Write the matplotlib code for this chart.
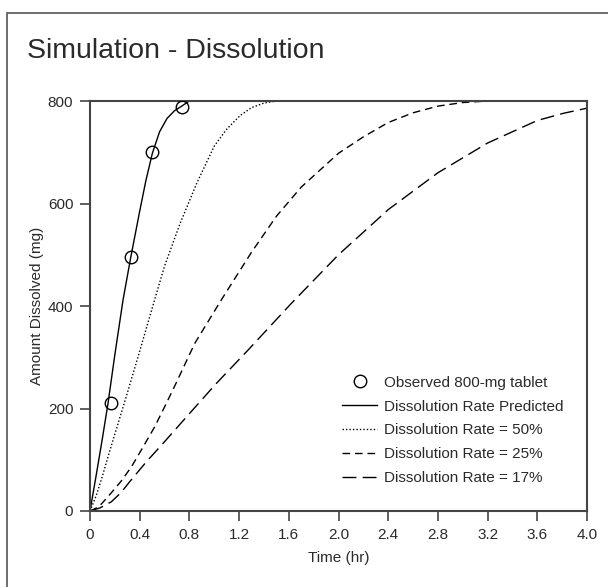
import numpy as np
import matplotlib
matplotlib.use('Agg')
import matplotlib.pyplot as plt
from matplotlib.patches import Rectangle

# observed tablet data
obs_t = [0.167, 0.328, 0.502, 0.738]
obs_y = [210, 495, 701, 788]

# predicted dissolution (solid)
pred_t = [0, 0.05, 0.1, 0.145, 0.2, 0.266, 0.328, 0.4, 0.45, 0.502, 0.56, 0.62, 0.68, 0.738, 0.8]
pred_y = [0, 70, 142, 210, 305, 412, 495, 585, 645, 698, 740, 766, 781, 790, 800]

# 50% rate (dotted)
r50_t = [0, 0.05, 0.1, 0.15, 0.2, 0.3, 0.4, 0.52, 0.6, 0.725, 0.86, 1.0, 1.1, 1.21, 1.3, 1.4, 1.5]
r50_y = [0, 30, 68, 110, 150, 230, 312, 412, 478, 561, 640, 712, 745, 772, 787, 796, 800]

# 25% rate (dashed)
r25_t = [0, 0.07, 0.145, 0.25, 0.333, 0.42, 0.52, 0.6, 0.68, 0.843, 1.057, 1.3, 1.5, 1.7, 2.0, 2.2, 2.4, 2.6, 2.8, 3.0, 3.2]
r25_y = [0, 8, 28, 58, 86, 122, 164, 203, 243, 327, 412, 505, 575, 632, 698, 730, 758, 777, 790, 797, 800]

# 17% rate (long dash)
r17_t = [0, 0.08, 0.172, 0.25, 0.319, 0.45, 0.588, 0.8, 1.017, 1.272, 1.62, 2.0, 2.4, 2.8, 3.2, 3.6, 3.81, 4.0]
r17_y = [0, 6, 18, 36, 57, 95, 132, 190, 249, 314, 405, 500, 588, 660, 718, 762, 776, 786]

xticks = [0, 0.4, 0.8, 1.2, 1.6, 2.0, 2.4, 2.8, 3.2, 3.6, 4.0]
xticklabels = ['0', '0.4', '0.8', '1.2', '1.6', '2.0', '2.4', '2.8', '3.2', '3.6', '4.0']
yticks = [0, 200, 400, 600, 800]

plt.rcParams['font.family'] = ['Liberation Sans', 'DejaVu Sans']
txtcol = '#2a2a2a'
axcol = '#444444'

fig = plt.figure(figsize=[6.08, 5.87], dpi=100)
ax = fig.add_axes([90/608, 1-511/587, 497/608, 410/587])

# outer frame, runs off the right and bottom edges
fig.patches.append(Rectangle((6.7/608, -0.1), 1.2, 1-13.3/587+0.1, transform=fig.transFigure,
                             fill=False, edgecolor='#555555', linewidth=1.2))

fig.text(27/608, 1-51/587, 'Simulation - Dissolution', fontsize=20.5, color=txtcol, va='center', ha='left')

ax.plot(obs_t, obs_y, 'o', mfc='none', mec='black', ms=9, mew=1, label='Observed 800-mg tablet', zorder=3)
ax.plot(pred_t, pred_y, color='black', lw=1, label='Dissolution Rate Predicted')
ax.plot(r50_t, r50_y, color='black', lw=1, linestyle=(0, (1, 1.5)), label='Dissolution Rate = 50%')
ax.plot(r25_t, r25_y, color='black', lw=1, linestyle=(0, (5.5, 3.5)), label='Dissolution Rate = 25%')
ax.plot(r17_t, r17_y, color='black', lw=1, linestyle=(0, (10, 4.5)), label='Dissolution Rate = 17%')

ax.set_xlim(0, 4.0)
ax.set_ylim(0, 800)
ax.set_xticks(xticks)
ax.set_xticklabels(xticklabels)
ax.set_yticks(yticks)
ax.tick_params(direction='out', length=7, width=1.2, color=axcol, labelsize=11, labelcolor=txtcol, pad=5)
for s in ax.spines.values():
    s.set_color(axcol)
    s.set_linewidth(1.5)

ax.set_xlabel('Time (hr)', fontsize=11, color=txtcol, labelpad=7)
ax.set_ylabel('Amount Dissolved (mg)', fontsize=11, color=txtcol, labelpad=3)

leg = ax.legend(loc='lower left', bbox_to_anchor=(0.48, 0.03), frameon=False, fontsize=11,
                handlelength=2.3, handletextpad=0.45, labelspacing=0.64, numpoints=1)
for t in leg.get_texts():
    t.set_color(txtcol)

fig.savefig('out.png', dpi=100)
